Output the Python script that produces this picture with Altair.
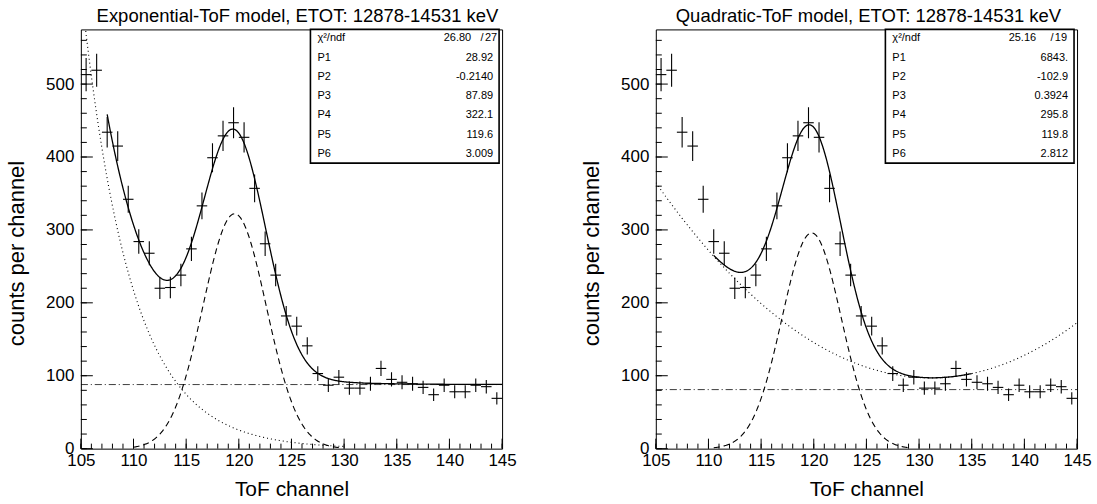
import altair as alt
import numpy as np
import pandas as pd

# ---------------- data ----------------
tof_channel = [105.5, 106.5, 107.5, 108.5, 109.5, 110.5, 111.5, 112.5, 113.5, 114.5,
               115.5, 116.5, 117.5, 118.5, 119.5, 120.5, 121.5, 122.5, 123.5, 124.5,
               125.5, 126.5, 127.5, 128.5, 129.5, 130.5, 131.5, 132.5, 133.5, 134.5,
               135.5, 136.5, 137.5, 138.5, 139.5, 140.5, 141.5, 142.5, 143.5, 144.5]
counts = [513, 519, 434, 415, 342, 284, 268, 220, 221, 238,
          274, 333, 399, 429, 447, 427, 357, 281, 238, 182,
          168, 141, 103, 87, 98, 83, 83, 89, 110, 95,
          91, 89, 84, 74, 87, 78, 78, 87, 85, 69]

# fit parameters shown in the stat boxes
exp_params = [28.92, -0.2140, 87.89, 322.1, 119.6, 3.009]
exp_chi2 = ["26.80", "27"]
exp_labels = ["28.92", "-0.2140", "87.89", "322.1", "119.6", "3.009"]
quad_params = [6843.0, -102.9, 0.3924, 295.8, 119.8, 2.812]
quad_chi2 = ["25.16", "19"]
quad_labels = ["6843.", "-102.9", "0.3924", "295.8", "119.8", "2.812"]
quad_const_line = [81.0]

x_ticks_major = [105, 110, 115, 120, 125, 130, 135, 140, 145]
x_ticks_minor = list(range(105, 146))
y_ticks_major = [0, 100, 200, 300, 400, 500]
y_ticks_minor = list(range(0, 561, 20))

X_DOMAIN = [105, 145]
Y_DOMAIN = [0, 575]
W, H = 422, 420
FONT = "Liberation Sans"

hist = pd.DataFrame({"tof": tof_channel, "counts": counts})
hist["lo"] = hist["tof"] - 0.5
hist["hi"] = hist["tof"] + 0.5
hist["err"] = np.sqrt(hist["counts"])
hist["ylo"] = hist["counts"] - hist["err"]
hist["yhi"] = hist["counts"] + hist["err"]

xs = alt.Scale(domain=X_DOMAIN, nice=False, zero=False)
ys = alt.Scale(domain=Y_DOMAIN, nice=False, zero=False)

X_AXIS = alt.Axis(values=x_ticks_major, format="d", ticks=False, domain=False,
                  grid=False, labelFont=FONT, labelFontSize=17,
                  labelColor="black", labelPadding=4,
                  labelFlush=False, labelOverlap=False,
                  title="ToF channel", titleFont=FONT, titleFontSize=21,
                  titleFontWeight="normal", titleColor="black",
                  titleY=41, titleBaseline="middle")
Y_AXIS = alt.Axis(values=y_ticks_major, format="d", ticks=False, domain=False,
                  grid=False, labelFont=FONT, labelFontSize=17,
                  labelColor="black", labelPadding=7,
                  labelFlush=False, labelOverlap=False,
                  title="counts per channel", titleFont=FONT,
                  titleFontSize=22, titleFontWeight="normal",
                  titleColor="black", titleX=-64, titleY=224,
                  titleAngle=270, titleAlign="center",
                  titleBaseline="middle")


def XQ(field):
    return alt.X(field, scale=xs, axis=X_AXIS)


def YQ(field):
    return alt.Y(field, scale=ys, axis=Y_AXIS)


def curve_df(x0, x1, fn):
    x = np.arange(x0, x1 + 1e-9, 0.05)
    return pd.DataFrame({"x": x, "y": fn(x)})


def line_layer(df, dash=None, width=1.1):
    kw = dict(color="black", strokeWidth=width, clip=True)
    if dash is not None:
        kw["strokeDash"] = dash
    return alt.Chart(df).mark_line(**kw).encode(x=XQ("x:Q"), y=YQ("y:Q"))


one = alt.InlineData(values=[{"k": 0}])


def text_layer(txt, x, y, align, size=11, baseline="middle"):
    return alt.Chart(one).mark_text(
        align=align, baseline=baseline, font=FONT, fontSize=size, color="black"
    ).encode(x=alt.value(x), y=alt.value(y), text=alt.value(txt))


def anchor(x, y):
    # tiny white rect fixing the canvas extent
    return alt.Chart(one).mark_rect(fill="white", strokeWidth=0).encode(
        x=alt.value(x), x2=alt.value(x + 1), y=alt.value(y), y2=alt.value(y + 1))


def panel(title, curves, chi2, chi_pos, labels, extra, title_dx):
    base = alt.Chart(hist)
    xerr = base.mark_rule(color="black", strokeWidth=1.1).encode(
        x=XQ("lo:Q"), x2="hi:Q", y=YQ("counts:Q"))
    yerr = base.mark_rule(color="black", strokeWidth=1.1, clip=True).encode(
        x=XQ("tof:Q"), y=YQ("ylo:Q"), y2="yhi:Q")
    # inward ticks
    xt_major = alt.Chart(pd.DataFrame({"v": x_ticks_major})).mark_rule(color="black").encode(
        x=XQ("v:Q"), y=alt.value(H), y2=alt.value(H - 10))
    xt_minor = alt.Chart(pd.DataFrame({"v": x_ticks_minor})).mark_rule(color="black").encode(
        x=XQ("v:Q"), y=alt.value(H), y2=alt.value(H - 5))
    yt_major = alt.Chart(pd.DataFrame({"v": y_ticks_major})).mark_rule(color="black").encode(
        y=YQ("v:Q"), x=alt.value(0), x2=alt.value(12))
    yt_minor = alt.Chart(pd.DataFrame({"v": y_ticks_minor})).mark_rule(color="black").encode(
        y=YQ("v:Q"), x=alt.value(0), x2=alt.value(6))

    layers = [extra, xerr, yerr, xt_major, xt_minor, yt_major, yt_minor]
    layers += [line_layer(df, dash, w) for df, dash, w in curves]

    # stat box
    box = alt.Chart(one).mark_rect(fill="white", stroke="black", strokeWidth=1.6).encode(
        x=alt.value(230), x2=alt.value(419), y=alt.value(0), y2=alt.value(134))
    layers.append(box)
    row_y = [9, 28.3, 47.5, 66.8, 86, 105.3, 124.5]
    lx = 237
    layers.append(text_layer("χ²/ndf", lx, row_y[0], "left"))
    layers.append(text_layer(chi2[0], chi_pos[0], row_y[0], "right"))
    layers.append(text_layer("/", chi_pos[1], row_y[0], "center"))
    layers.append(text_layer(chi2[1], chi_pos[2], row_y[0], "right"))
    for i, lab in enumerate(labels):
        layers.append(text_layer(f"P{i + 1}", lx, row_y[i + 1], "left"))
        layers.append(text_layer(lab, 413, row_y[i + 1], "right"))

    # panel title
    layers.append(text_layer(title, W / 2 + title_dx, -7, "center", size=18.5,
                             baseline="alphabetic"))

    return alt.layer(*layers).properties(width=W, height=H)


# ---- exponential model curves (from the displayed parameters) ----
p = exp_params
exp_bg = lambda x: np.exp(p[0] + p[1] * x)
exp_g = lambda x: p[3] * np.exp(-0.5 * ((x - p[4]) / p[5]) ** 2)
exp_const = lambda x: np.full_like(x, p[2])
exp_curves = [
    (curve_df(107.5, 145, lambda x: exp_bg(x) + exp_const(x) + exp_g(x)), None, 1.3),
    (curve_df(105, 130, exp_bg), [1, 3], 1.1),
    (curve_df(110, 129.5, exp_g), [6, 4], 1.1),
    (curve_df(105, 145, exp_const), [7, 3, 1, 3], 1.0),
]

q = quad_params
quad_bg = lambda x: q[0] + q[1] * x + q[2] * x ** 2
quad_g = lambda x: q[3] * np.exp(-0.5 * ((x - q[4]) / q[5]) ** 2)
quad_curves = [
    (curve_df(110.5, 135, lambda x: quad_bg(x) + quad_g(x)), None, 1.3),
    (curve_df(105, 145, quad_bg), [1, 3], 1.1),
    (curve_df(110.5, 129, quad_g), [6, 4], 1.1),
    (curve_df(105, 145, lambda x: np.full_like(x, quad_const_line[0])), [7, 3, 1, 3], 1.0),
]

left = panel("Exponential-ToF model, ETOT: 12878-14531 keV", exp_curves,
             exp_chi2, (391, 402, 417), exp_labels, anchor(-80, -28), 6)
right = panel("Quadratic-ToF model, ETOT: 12878-14531 keV", quad_curves,
              quad_chi2, (381, 397, 412), quad_labels, anchor(W + 18, H + 55), 2)

chart = alt.hconcat(left, right, spacing=154, bounds="flush").properties(
    autosize=alt.AutoSizeParams(type="pad"),
    padding=0,
    background="white",
).configure_view(stroke="black", strokeWidth=1)

chart.save("out.html", embed_options={"renderer": "svg", "actions": False})
